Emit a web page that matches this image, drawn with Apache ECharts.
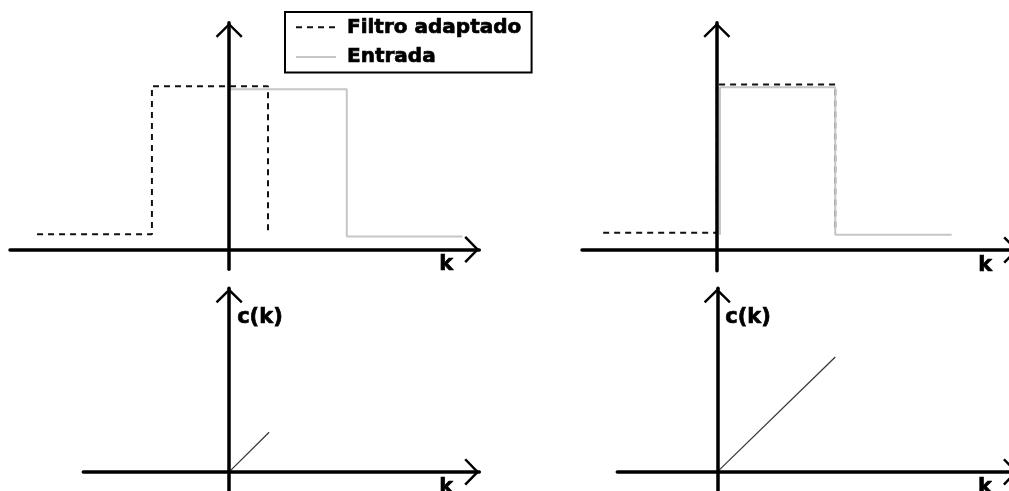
<!DOCTYPE html>
<html>
<head>
<meta charset="utf-8">
<script src="https://cdn.jsdelivr.net/npm/echarts@6/dist/echarts.min.js"></script>
<style>
  html, body { margin: 0; padding: 0; background: #fff; }
  #chart { width: 1009px; height: 491px; }
</style>
</head>
<body>
<div id="chart"></div>
<script>
// Pulse outlines, as [k, amplitude] vertices
const filtroDesplazado  = [[-4.9, 0.39], [-1.97, 0.39], [-1.97, 4.17], [0.99, 4.17], [0.99, 0.39]];
const entradaDesplazada = [[0, 0.33], [0, 4.09], [3.0, 4.09], [3.0, 0.33], [5.95, 0.33]];
const filtroAlineado    = [[-2.9, 0.44], [0, 0.44], [0, 4.22], [3.02, 4.22], [3.02, 0.44]];
const entradaAlineada   = [[0.08, 0.39], [0.08, 4.15], [3.02, 4.15], [3.02, 0.39], [5.99, 0.39]];

// Correlation output c(k) for each case
const correlacionParcial = [[0, 0], [1.02, 1.01]];
const correlacionTotal   = [[0, 0], [3.01, 2.93]];

const nombresSerie = ['Filtro adaptado', 'Entrada'];
const nombreEjeX = 'k';
const nombreEjeY = 'c(k)';

const FONT = 'DejaVu Sans';
// open chevron arrow head, tip at top
const CHEVRON = 'path://M13.5,0 L27,13.2 L25.3,15 L13.5,3.4 L1.7,15 L0,13.2 Z';

// grid boxes (px) and axis ranges for the four panels
const panels = [
  { left: 10,    top: 22.7,  width: 469.3, height: 246.6, x: [-5.59, 6.38], y: [-0.505, 5.79], yName: '' },
  { left: 582,   top: 22.7,  width: 436.3, height: 248.0, x: [-3.44, 7.69], y: [-0.53, 5.8],   yName: '' },
  { left: 83.3,  top: 288.3, width: 396.0, height: 203.4, x: [-3.72, 6.38], y: [-0.505, 4.68], yName: nombreEjeY },
  { left: 617.3, top: 288.3, width: 400.7, height: 203.4, x: [-2.55, 7.67], y: [-0.505, 4.68], yName: nombreEjeY }
];

const axisLine = {
  onZero: true,
  symbol: ['none', CHEVRON],
  symbolSize: [27, 15],
  symbolOffset: [0, -7.5],
  lineStyle: { color: '#000', width: 3.5 }
};
// heavy bold lettering: bold face plus a thin outline in the same colour
const heavyText = { fontFamily: FONT, fontWeight: 'bold', color: '#000', textBorderColor: '#000', textBorderWidth: 0.7 };
const nameStyle = Object.assign({ fontSize: 21 }, heavyText);

const grid = panels.map(p => ({
  left: p.left, top: p.top, width: p.width, height: p.height,
  containLabel: false, outerBoundsMode: 'none'
}));
const xAxis = panels.map((p, i) => ({
  type: 'value', gridIndex: i, min: p.x[0], max: p.x[1], z: 5,
  axisLine, axisTick: { show: false }, axisLabel: { show: false }, splitLine: { show: false },
  name: nombreEjeX, nameLocation: 'end', nameGap: -40, nameMoveOverlap: false,
  nameTextStyle: Object.assign({ align: 'left', verticalAlign: 'top', padding: [5, 0, 0, 0] }, nameStyle)
}));
const yAxis = panels.map((p, i) => ({
  type: 'value', gridIndex: i, min: p.y[0], max: p.y[1], z: 5,
  axisLine, axisTick: { show: false }, axisLabel: { show: false }, splitLine: { show: false },
  name: p.yName, nameLocation: 'end', nameGap: -19, nameMoveOverlap: false,
  nameTextStyle: Object.assign({ align: 'left', verticalAlign: 'top', padding: [0, 0, 0, 8] }, nameStyle)
}));

const dashed = { color: '#111', width: 2, type: [6, 5] };
const gray = { color: '#c6c6c6', width: 2 };
const thin = { color: '#333', width: 1.2 };

function line(name, data, idx, style) {
  return {
    name, type: 'line', data, xAxisIndex: idx, yAxisIndex: idx,
    symbol: 'none', lineStyle: style, itemStyle: { color: style.color },
    silent: true, z: 2
  };
}

const option = {
  backgroundColor: '#fff',
  animation: false,
  legend: {
    data: nombresSerie,
    orient: 'vertical',
    left: 285, top: 12,
    padding: [5, 10, 5, 10],
    itemWidth: 40, itemHeight: 14, itemGap: 9,
    borderColor: '#000', borderWidth: 2,
    itemStyle: { opacity: 0 },
    textStyle: Object.assign({ fontSize: 20, padding: [0, 0, 0, 6] }, heavyText),
    selectedMode: false
  },
  grid, xAxis, yAxis,
  series: [
    line(nombresSerie[0], filtroDesplazado, 0, dashed),
    line(nombresSerie[1], entradaDesplazada, 0, gray),
    line(nombresSerie[0], filtroAlineado, 1, dashed),
    line(nombresSerie[1], entradaAlineada, 1, gray),
    line('c(k)', correlacionParcial, 2, thin),
    line('c(k)', correlacionTotal, 3, thin)
  ]
};

const chart = echarts.init(document.getElementById('chart'), null, { renderer: 'canvas' });
chart.setOption(option);
</script>
</body>
</html>
